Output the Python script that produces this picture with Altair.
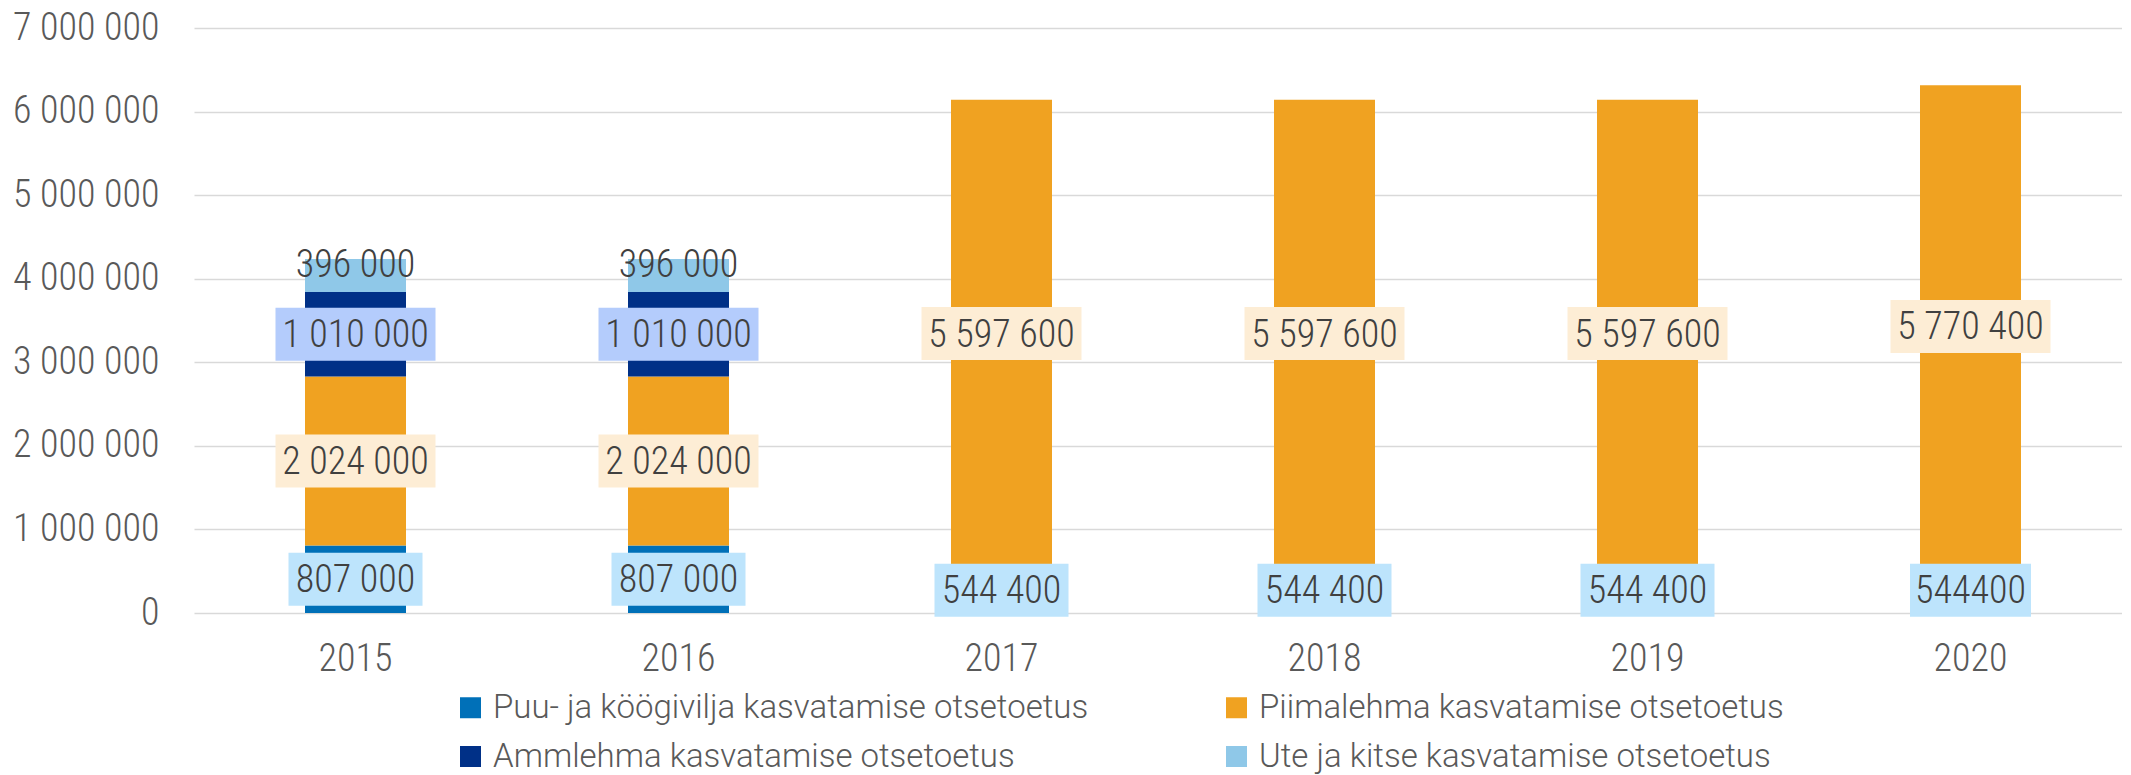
import altair as alt
import pandas as pd

years = ["2015", "2016", "2017", "2018", "2019", "2020"]
series = [
    "Puu- ja köögivilja kasvatamise otsetoetus",
    "Piimalehma kasvatamise otsetoetus",
    "Ammlehma kasvatamise otsetoetus",
    "Ute ja kitse kasvatamise otsetoetus",
]
puu = [807000, 807000, 544400, 544400, 544400, 544400]
piim = [2024000, 2024000, 5597600, 5597600, 5597600, 5770400]
amml = [1010000, 1010000, None, None, None, None]
ute = [396000, 396000, None, None, None, None]

puu_labels = ["807 000", "807 000", "544 400", "544 400", "544 400", "544400"]
piim_labels = ["2 024 000", "2 024 000", "5 597 600", "5 597 600", "5 597 600", "5 770 400"]
amml_labels = ["1 010 000", "1 010 000", None, None, None, None]
ute_labels = ["396 000", "396 000", None, None, None, None]

bar_colors = ["#0070B8", "#F0A221", "#003087", "#8FC8E8"]
box_colors = ["#BDE4FC", "#FDEDD5", "#B4CCFC", "#8FC8E8"]
y_ticks = [0, 1000000, 2000000, 3000000, 4000000, 5000000, 6000000, 7000000]

FONT = "Roboto Condensed, Roboto"
LEGEND_FONT = "Roboto"

rows = []
for idx, (name, vals, labs) in enumerate(
    zip(series, [puu, piim, amml, ute], [puu_labels, piim_labels, amml_labels, ute_labels])
):
    for yr, v, lab in zip(years, vals, labs):
        if v is None:
            continue
        rows.append({"year": yr, "series": name, "idx": idx, "value": v, "label": lab})
df = pd.DataFrame(rows)

xscale = alt.Scale(domain=years, range=[0, 1938], paddingInner=0, paddingOuter=0)
yscale = alt.Scale(domain=[0, 7000000], nice=False)

base = (
    alt.Chart(df)
    .transform_stack(
        stack="value",
        groupby=["year"],
        as_=["y0", "y1"],
        sort=[alt.SortField("idx", order="ascending")],
    )
    .transform_calculate(mid="(datum.y0 + datum.y1) / 2")
)

x_enc = alt.X(
    "year:N",
    scale=xscale,
    sort=years,
    axis=alt.Axis(
        title=None,
        domain=False,
        ticks=False,
        labelAngle=0,
        labelPadding=46,
        labelBaseline="middle",
        labelFont=FONT,
        labelFontWeight=300,
        labelFontSize=38,
        labelColor="#595959",
        grid=False,
    ),
)

bars = base.mark_bar(size=101).encode(
    x=x_enc,
    y=alt.Y(
        "y0:Q",
        scale=yscale,
        axis=alt.Axis(
            title=None,
            values=y_ticks,
            domain=False,
            ticks=False,
            grid=True,
            gridColor="#D9D9D9",
            gridWidth=1.3,
            labelPadding=35,
            labelBaseline="middle",
            labelFont=FONT,
            labelFontWeight=300,
            labelFontSize=38,
            labelColor="#595959",
            labelExpr="replace(format(datum.value, ','), regexp(',', 'g'), ' ')",
        ),
    ),
    y2="y1:Q",
    color=alt.Color(
        "series:N",
        scale=alt.Scale(domain=series, range=bar_colors),
        legend=alt.Legend(
            title=None,
            orient="none",
            legendX=260,
            legendY=663,
            direction="horizontal",
            columns=2,
            symbolType="square",
            symbolSize=441,
            symbolStrokeWidth=0,
            labelFont=LEGEND_FONT,
            labelFontWeight=300,
            labelFontSize=33,
            labelColor="#595959",
            labelLimit=2000,
            labelOffset=6,
            columnPadding=131,
            rowPadding=15,
            padding=0,
        ),
    ),
    order=alt.Order("idx:Q"),
)

boxes = (
    base.transform_filter(alt.datum.idx != 3)
    .transform_calculate(
        boxw="length(datum.label) * 13 + 43",
    )
    .transform_calculate(r="26.5 / (datum.boxw / 2)")
    .transform_calculate(
        shp="'M-1,-' + datum.r + 'L1,-' + datum.r + 'L1,' + datum.r + 'L-1,' + datum.r + 'Z'",
        sz="datum.boxw * datum.boxw",
    )
    .mark_point(filled=True, opacity=1, strokeWidth=0)
    .encode(
        x=alt.X("year:N", scale=xscale, sort=years),
        y=alt.Y("mid:Q", scale=yscale),
        fill=alt.Fill("series:N", scale=alt.Scale(domain=series, range=box_colors), legend=None),
        shape=alt.Shape("shp:N", scale=None),
        size=alt.Size("sz:Q", scale=None),
    )
)

text_main = (
    base.transform_filter(alt.datum.idx != 3)
    .mark_text(font=FONT, fontWeight=300, fontSize=38, color="#404040", baseline="middle", align="center", dy=2)
    .encode(
        x=alt.X("year:N", scale=xscale, sort=years),
        y=alt.Y("mid:Q", scale=yscale),
        text="label:N",
    )
)

text_top = (
    base.transform_filter(alt.datum.idx == 3)
    .mark_text(font=FONT, fontWeight=300, fontSize=38, color="#404040", baseline="middle", align="center", dy=-9)
    .encode(
        x=alt.X("year:N", scale=xscale, sort=years),
        y=alt.Y("mid:Q", scale=yscale),
        text="label:N",
    )
)

chart = (
    alt.layer(bars, boxes, text_main, text_top)
    .properties(
        width=1928,
        height=585,
        padding={"left": 186, "top": 20, "right": 0, "bottom": 162},
        autosize=alt.AutoSizeParams(type="none"),
    )
    .configure_view(stroke=None)
)

chart.save("out.html", embed_options={"renderer": "svg", "actions": False})
